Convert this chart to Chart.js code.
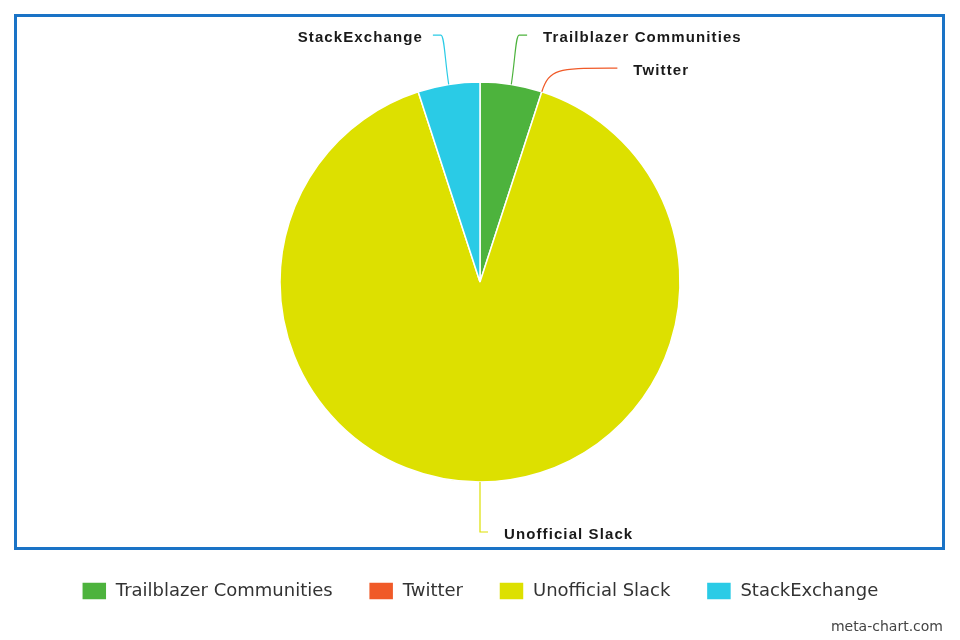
<!DOCTYPE html>
<html>
<head>
<meta charset="utf-8">
<script src="https://cdn.jsdelivr.net/npm/chart.js@4/dist/chart.umd.min.js"></script>
<style>
  html, body { margin: 0; padding: 0; background: #fff; }
  #wrap { position: relative; width: 960px; height: 640px; }
  #mark { position: absolute; right: 17px; bottom: 6px; font: 14px "DejaVu Sans", sans-serif; color: #444; }
</style>
</head>
<body>
<div id="wrap">
  <canvas id="pie" width="960" height="640"></canvas>
  <div id="mark">meta-chart.com</div>
</div>
<script>
/* ================================
   Data
   ================================ */
const labels = ["Trailblazer Communities", "Twitter", "Unofficial Slack", "StackExchange"];
const values = [5, 0, 90, 5];
const colors = ["#4db33d", "#f05a28", "#dde000", "#2acbe6"];

/* ================================
   Frame around the pie area
   ================================ */
const framePlugin = {
  id: "frame",
  beforeDraw(chart) {
    const ctx = chart.ctx;
    ctx.save();
    ctx.strokeStyle = "#1a73c6";
    ctx.lineWidth = 3;
    ctx.strokeRect(15.5, 15.5, 928, 533);
    ctx.restore();
  }
};

/* ================================
   Outside labels with leader lines
   ================================ */
const outLabels = {
  id: "outLabels",
  afterDatasetsDraw(chart) {
    const ctx = chart.ctx;
    const arcs = chart.getDatasetMeta(0).data;
    const R = 250, gap = 33;
    const items = arcs.map((arc, i) => {
      const mid = (arc.startAngle + arc.endAngle) / 2;
      const cx = arc.x, cy = arc.y, r = arc.outerRadius;
      const side = Math.cos(mid) >= 0 ? 1 : -1;
      return { i, mid, cx, cy, r, side, y: cy + R * Math.sin(mid) };
    });
    // push labels apart on each side
    [1, -1].forEach(side => {
      const list = items.filter(it => it.side === side).sort((a, b) => a.y - b.y);
      for (let k = 1; k < list.length; k++) {
        if (list[k].y - list[k - 1].y < gap) list[k].y = list[k - 1].y + gap;
      }
    });
    ctx.save();
    ctx.font = "bold 15px 'Liberation Sans', Arial, sans-serif";
    ctx.letterSpacing = "1.1px";
    ctx.textBaseline = "middle";
    items.forEach(it => {
      const dy = it.y - it.cy;
      const lx = it.cx + it.side * Math.sqrt(Math.max(R * R - dy * dy, 0));
      const ax = it.cx + it.r * Math.cos(it.mid), ay = it.cy + it.r * Math.sin(it.mid);
      const px = it.cx + (it.r + 24) * Math.cos(it.mid), py = it.cy + (it.r + 24) * Math.sin(it.mid);
      const ex = lx + it.side * 8;
      ctx.strokeStyle = colors[it.i];
      ctx.lineWidth = 1.2;
      ctx.beginPath();
      ctx.moveTo(ax, ay);
      ctx.bezierCurveTo(px, py, px + (lx - px) * 0.15, it.y, lx, it.y);
      ctx.lineTo(ex, it.y);
      ctx.stroke();
      ctx.fillStyle = "#1a1a1a";
      ctx.textAlign = it.side > 0 ? "left" : "right";
      ctx.fillText(labels[it.i], ex + it.side * (it.side > 0 ? 16 : 10), it.y + 3);
    });
    ctx.restore();
  }
};

new Chart(document.getElementById("pie"), {
  type: "pie",
  data: {
    labels: labels,
    datasets: [{
      data: values,
      backgroundColor: colors,
      borderColor: "#fff",
      borderWidth: 1.5,
      radius: 200
    }]
  },
  options: {
    responsive: false,
    animation: false,
    layout: { padding: { top: 18, bottom: 30, left: 0, right: 0 } },
    plugins: {
      tooltip: { enabled: false },
      legend: {
        position: "bottom",
        labels: {
          boxWidth: 25,
          boxHeight: 18,
          padding: 36,
          color: "#333",
          font: { family: "'DejaVu Sans', sans-serif", size: 18 }
        }
      }
    }
  },
  plugins: [framePlugin, outLabels]
});
</script>
</body>
</html>
